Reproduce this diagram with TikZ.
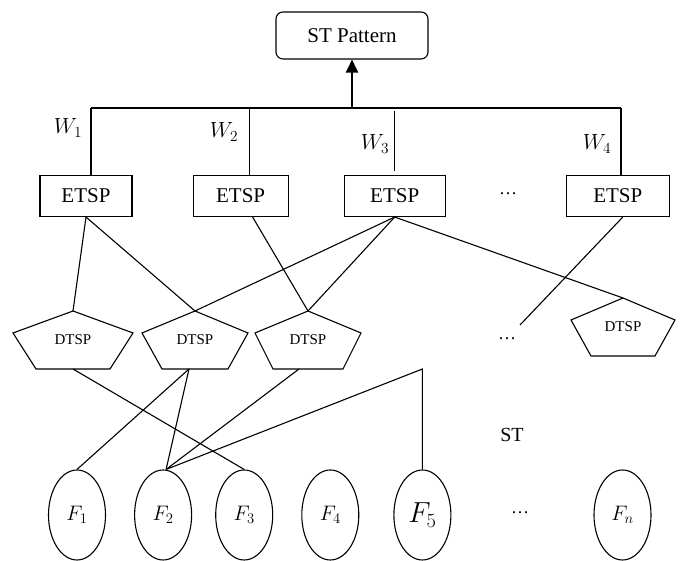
\RequirePackage{fix-cm}
\documentclass[tikz,border=0pt]{standalone}
\usepackage{fontspec}
\setmainfont{Liberation Serif}
\usetikzlibrary{shapes.geometric, arrows.meta, positioning, calc}

\begin{document}
\begin{tikzpicture}[
    x=1pt, y=1pt,
    link/.style={line width=1.1pt},
    thinlink/.style={line width=0.7pt},
    etsp/.style={
      rectangle, draw, line width=1.1pt, inner sep=0pt,
      minimum width=#1, minimum height=41pt,
      font=\fontsize{21}{24}\selectfont
    },
    etsp/.default=95pt,
    feat/.style={
      ellipse, draw, line width=1.1pt, inner sep=0pt,
      minimum width=57pt, minimum height=90pt,
      font=\fontsize{21}{24}\selectfont
    },
    wlbl/.style={font=\fontsize{22}{24}\selectfont},
    dtsplbl/.style={font=\fontsize{15}{18}\selectfont},
    dots/.style={font=\fontsize{18}{20}\selectfont, inner sep=0pt},
    pics/dtsp/.style args={#1/#2}{code={
      \draw[link, line join=miter] (0,29) -- (#1,7) -- (#2,-29) -- (-#2,-29) -- (-#1,7) -- cycle;
      \node[dtsplbl] (-lbl) at (0,0) {DTSP};
      \coordinate (-apex) at (0,29);
      \coordinate (-base) at (0,-29);
    }},
  ]
  \useasboundingbox (0,0) rectangle (683,561);

  %% -- Top: pattern box and weight bar -------------------------------------
  \node[draw, rounded corners=7pt, line width=1.1pt, minimum width=152pt,
        minimum height=47pt, font=\fontsize{21}{24}\selectfont]
        (pattern) at (352,525.5) {ST Pattern};

  \coordinate (w1) at (91,453);
  \coordinate (w2) at (249,453);
  \coordinate (w3) at (394,453);
  \coordinate (w4) at (621,453);

  %% -- ETSP row ------------------------------------------------------------
  \node[etsp=92pt]                         (etsp1) at (86,365) {ETSP};
  \node[etsp=95pt,  right=60pt of etsp1]   (etsp2) {ETSP};
  \node[etsp=101pt, right=55pt of etsp2]   (etsp3) {ETSP};
  \node[etsp=103pt, right=120pt of etsp3]  (etsp4) {ETSP};
  \node[dots] (edots) at (508,367) {\dots};

  %% -- weights -------------------------------------------------------------
  \draw[link] (w1) -- (w4);
  \draw[-{Triangle[length=13pt, width=12pt]}, line width=2.2pt]
      (pattern.south |- w1) -- (pattern.south);
  \draw[link]     (w1) -- (w1 |- etsp1.north);
  \draw[thinlink] (w2) -- (w2 |- etsp2.north);
  \draw[thinlink] ($(w3)+(0,-3)$) -- ($(w3 |- etsp3.north)+(0,4)$);
  \draw[link]     (w4) -- (w4 |- etsp4.north);

  \node[wlbl] (lw1) at (68,433) {$W_1$};
  \node[wlbl] (lw2) at (224,429) {$W_2$};
  \node[wlbl] (lw3) at (375,417) {$W_3$};
  \node[wlbl] (lw4) at (597,417) {$W_4$};

  %% -- DTSP row ------------------------------------------------------------
  \pic (p1) at (73,221)  {dtsp={60/37}};
  \pic (p2) at (195,221) {dtsp={53/33}};
  \pic (p3) at (308,221) {dtsp={53/35}};
  \pic (p4) at (623,234) {dtsp={52/32}};
  \node[dots] (ddots) at (507,222) {\dots};

  %% -- ETSP -> DTSP --------------------------------------------------------
  \draw[link] (etsp1.south) -- (p1-apex);
  \draw[link] (etsp1.south) -- (p2-apex);
  \draw[link] ([xshift=12pt]etsp2.south) -- (p3-apex);
  \draw[link] (etsp3.south) -- (p2-apex);
  \draw[link] (etsp3.south) -- (p3-apex);
  \draw[link] (etsp3.south) -- (p4-apex);
  \coordinate (loose) at (520,236);
  \draw[link] ([xshift=5pt]etsp4.south) -- (loose);

  %% -- feature row ---------------------------------------------------------
  \node[feat]                        (f1) at (77,46) {$F_1$};
  \node[feat, right=28pt of f1]      (f2) {$F_2$};
  \node[feat, right=23pt of f2]      (f3) {$F_3$};
  \node[feat, right=28pt of f3]      (f4) {$F_4$};
  \node[feat, right=34pt of f4,
        font=\fontsize{29}{32}\selectfont] (f5) {$F_5$};
  \node[feat, right=142pt of f5]     (fn) {$F_n$};
  \node[dots] (fdots) at (520,48) {\dots};
  \node[font=\fontsize{20}{24}\selectfont] (stlbl) at (512,126) {ST};

  %% -- DTSP -> features ----------------------------------------------------
  \draw[link] (p1-base) -- (f3.north);
  \draw[link] ([xshift=-6pt]p2-base) -- (f1.north);
  \draw[link] ([xshift=-6pt]p2-base) -- ([xshift=3pt]f2.north);
  \draw[link] ([xshift=-9pt]p3-base) -- ([xshift=3pt]f2.north);
  \coordinate (join) at (f5.north |- 0,192);
  \draw[link] ([xshift=3pt]f2.north) -- (join) -- (f5.north);

\end{tikzpicture}
\end{document}
